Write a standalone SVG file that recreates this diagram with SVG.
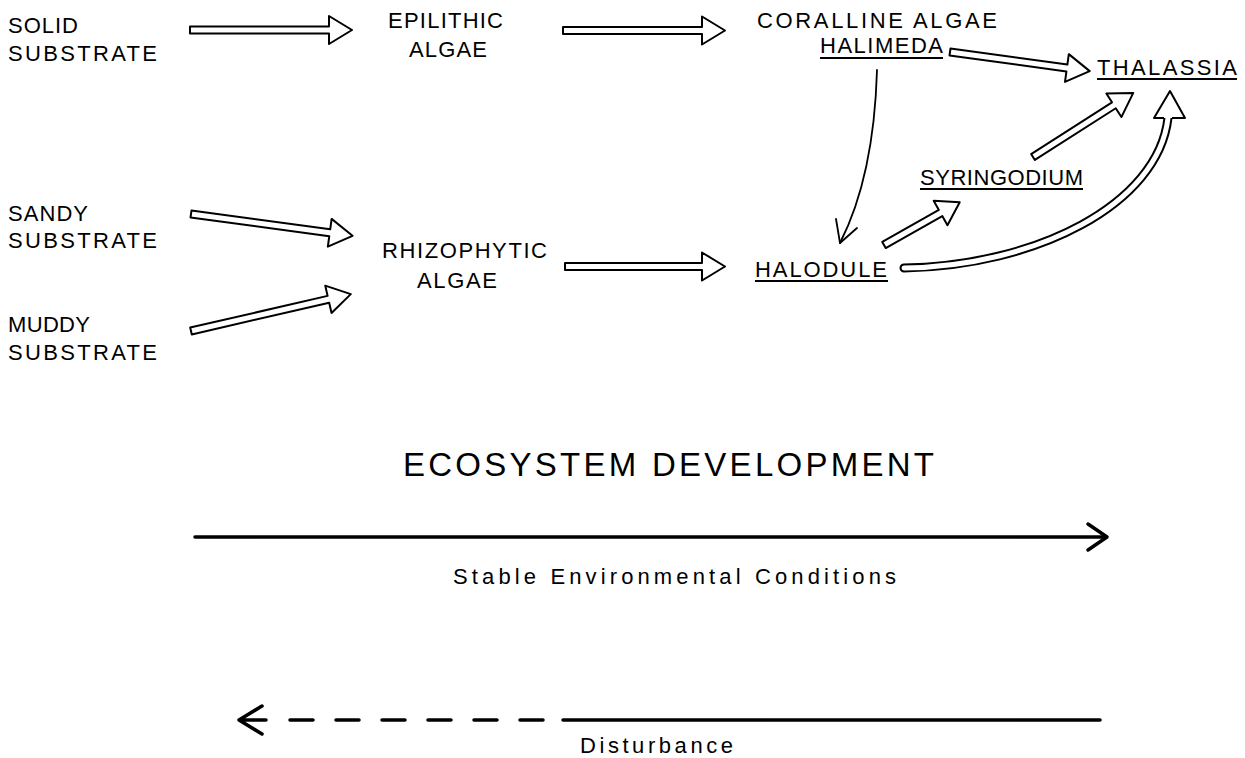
<svg xmlns="http://www.w3.org/2000/svg" width="1245" height="758" viewBox="0 0 1245 758">
<style>
.t{font-family:"Liberation Sans",Arial,sans-serif;font-size:22px;fill:#000}
.big{font-family:"Liberation Sans",Arial,sans-serif;font-size:33px;fill:#000}
.lc{font-family:"Liberation Sans",Arial,sans-serif;font-size:22px;fill:#000}
.ul{stroke:#000;stroke-width:2;fill:none}
.ha{fill:#fff;stroke:#000;stroke-width:2;stroke-linejoin:round}
.thin{fill:none;stroke:#000;stroke-width:1.8;stroke-linecap:round;stroke-linejoin:round}
.heavy{fill:none;stroke:#000;stroke-width:3.5;stroke-linecap:round;stroke-linejoin:round}
</style>
<rect width="1245" height="758" fill="#fff"/>
<g id="solid-substrate"><text class="t" x="8" y="33" textLength="70" lengthAdjust="spacing">SOLID</text><text class="t" x="8" y="61" textLength="149" lengthAdjust="spacing">SUBSTRATE</text></g>
<g id="epilithic-algae"><text class="t" x="388" y="28" textLength="115" lengthAdjust="spacing">EPILITHIC</text><text class="t" x="409" y="57" textLength="78" lengthAdjust="spacing">ALGAE</text></g>
<g id="coralline-halimeda"><text class="t" x="757" y="28" textLength="240" lengthAdjust="spacing">CORALLINE  ALGAE</text><text class="t" x="820" y="53" textLength="123" lengthAdjust="spacing">HALIMEDA</text><line class="ul" x1="820" y1="58" x2="943" y2="58"/></g>
<g id="thalassia"><text class="t" x="1097" y="75" textLength="140" lengthAdjust="spacing">THALASSIA</text><line class="ul" x1="1097" y1="79" x2="1237" y2="79"/></g>
<g id="syringodium"><text class="t" x="920" y="185" textLength="163" lengthAdjust="spacing">SYRINGODIUM</text><line class="ul" x1="920" y1="189" x2="1083" y2="189"/></g>
<g id="halodule"><text class="t" x="755" y="277" textLength="132" lengthAdjust="spacing">HALODULE</text><line class="ul" x1="755" y1="281" x2="888" y2="281"/></g>
<g id="sandy-substrate"><text class="t" x="8" y="221" textLength="80" lengthAdjust="spacing">SANDY</text><text class="t" x="8" y="248" textLength="149" lengthAdjust="spacing">SUBSTRATE</text></g>
<g id="muddy-substrate"><text class="t" x="8" y="332" textLength="82" lengthAdjust="spacing">MUDDY</text><text class="t" x="8" y="360" textLength="149" lengthAdjust="spacing">SUBSTRATE</text></g>
<g id="rhizophytic-algae"><text class="t" x="382" y="258" textLength="165" lengthAdjust="spacing">RHIZOPHYTIC</text><text class="t" x="417" y="288" textLength="80" lengthAdjust="spacing">ALGAE</text></g>
<g id="ecosystem-development"><text class="big" x="403" y="476" textLength="531" lengthAdjust="spacing">ECOSYSTEM  DEVELOPMENT</text></g>
<g id="stable-conditions"><text class="lc" x="453" y="584" textLength="443" lengthAdjust="spacing">Stable  Environmental  Conditions</text></g>
<g id="disturbance"><text class="lc" x="580" y="753" textLength="153" lengthAdjust="spacing">Disturbance</text></g>
<g id="connectors">
<path class="ha" transform="translate(190,30)" d="M0,-3.5 H139 V-14 L162,0 L139,14 V3.5 H0 Z"/>
<path class="ha" transform="translate(563,30.5)" d="M0,-3.5 H139 V-14 L162,0 L139,14 V3.5 H0 Z"/>
<path class="ha" transform="translate(191,214) rotate(7.7)" d="M0,-3.5 H140 V-14 L163,0 L140,14 V3.5 H0 Z"/>
<path class="ha" transform="translate(191,331) rotate(-13)" d="M0,-3.5 H141 V-14 L164,0 L141,14 V3.5 H0 Z"/>
<path class="ha" transform="translate(565,266.5)" d="M0,-3.5 H137 V-14 L160,0 L137,14 V3.5 H0 Z"/>
<path class="ha" transform="translate(950,52) rotate(7.8)" d="M0,-3.5 H118 V-14 L141,0 L118,14 V3.5 H0 Z"/>
<path class="ha" transform="translate(884,245) rotate(-29.5)" d="M0,-3.5 H65 V-14 L87,0 L65,14 V3.5 H0 Z"/>
<path class="ha" transform="translate(1033,157) rotate(-32.6)" d="M0,-3.5 H96 V-14 L119,0 L96,14 V3.5 H0 Z"/>
<path d="M904,268 C1035,266 1158,205 1168,118" fill="none" stroke="#000" stroke-width="9" stroke-linecap="round"/>
<path d="M904,268 C1035,266 1158,205 1168,118" fill="none" stroke="#fff" stroke-width="5" stroke-linecap="round"/>
<path class="ha" d="M1164,118 L1154,118 L1170,91 L1185,118 L1172,118"/>
<path class="thin" d="M877,70 C875,140 862,200 840,243"/>
<path class="thin" d="M836,219 L840,243 L857,228"/>
<line class="heavy" x1="195" y1="537" x2="1106" y2="537"/>
<path class="heavy" d="M1088,524 L1107,537 L1088,550"/>
<path class="heavy" d="M262,706 L239,720 L262,734 M239,720 H266"/>
<line class="heavy" x1="290" y1="720" x2="545" y2="720" stroke-dasharray="23 23" stroke-linecap="butt"/>
<line class="heavy" x1="563" y1="720" x2="1100" y2="720"/>
</g>
</svg>
